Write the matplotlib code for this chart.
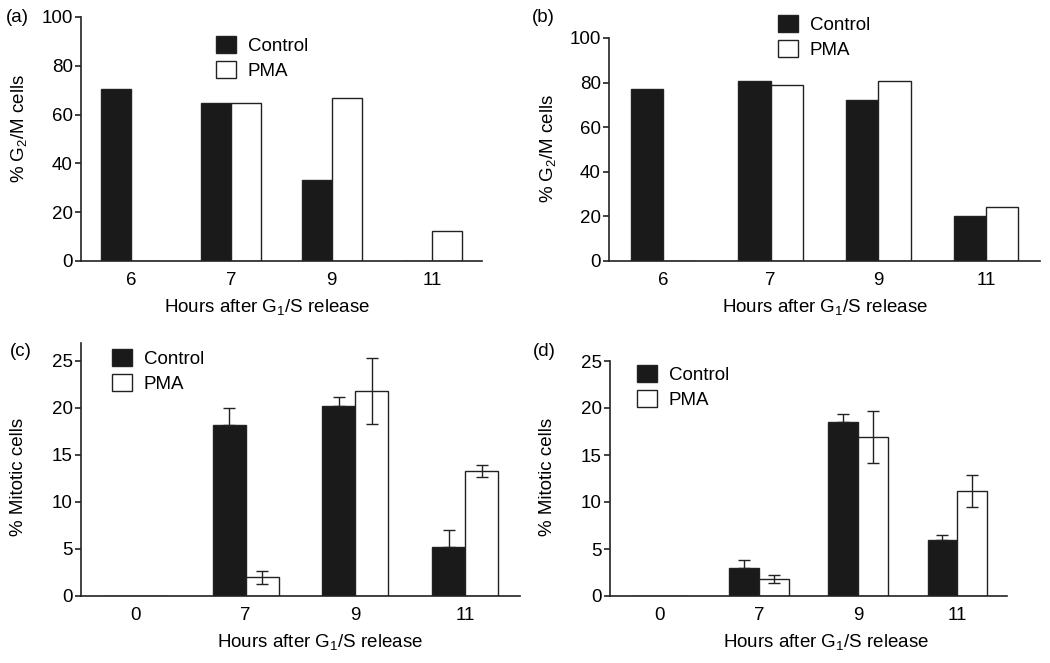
import numpy as np
import matplotlib
matplotlib.use('Agg')
import matplotlib.pyplot as plt
from matplotlib.patches import Patch

plt.rcParams['font.family'] = ['Liberation Sans', 'DejaVu Sans']
plt.rcParams['mathtext.fontset'] = 'custom'
plt.rcParams['mathtext.rm'] = 'Liberation Sans'
plt.rcParams['mathtext.default'] = 'regular'

# data
hours_ab = ['6', '7', '9', '11']
hours_cd = ['0', '7', '9', '11']
g2m_ctrl_a = [70.5, 64.7, 33.0, 0.0]
g2m_pma_a = [0.0, 64.7, 66.6, 12.4]
g2m_ctrl_b = [77.2, 80.5, 72.2, 20.2]
g2m_pma_b = [0.0, 79.0, 80.5, 24.1]
mit_ctrl_c = [0.0, 18.2, 20.2, 5.2]
mit_ctrl_c_err = [0.0, 1.8, 1.0, 1.8]
mit_pma_c = [0.0, 2.0, 21.8, 13.3]
mit_pma_c_err = [0.0, 0.7, 3.5, 0.65]
mit_ctrl_d = [0.0, 3.0, 18.5, 6.0]
mit_ctrl_d_err = [0.0, 0.8, 0.9, 0.5]
mit_pma_d = [0.0, 1.8, 16.9, 11.2]
mit_pma_d_err = [0.0, 0.4, 2.8, 1.7]

W, H = 1050, 663
fig = plt.figure(figsize=(W / 100, H / 100), dpi=100)
DARK = '#1a1a1a'
LINE = '#222222'
BW = 0.3
FS = 13.5


def add_ax(l, r, t, b):
    return fig.add_axes([l / W, 1 - b / H, (r - l) / W, (b - t) / H])


def fig_xy(x, y):
    return x / W, 1 - y / H


def panel(box, cats, ctrl, pma, ylim, yticks, ylabel, letter, leg_xy, ylab_xy, xlab_xy,
          ctrl_err=None, pma_err=None):
    l, r, t, b = box
    ax = add_ax(l, r, t, b)
    x = np.arange(len(cats))
    ax.bar(x - BW / 2, ctrl, BW, color=DARK, edgecolor=LINE, lw=1.0, zorder=2)
    ax.bar(x + BW / 2, pma, BW, color='white', edgecolor=LINE, lw=1.0, zorder=2)
    # control: only the upper half shows above the black bar
    for xs, vals, errs, two_sided in ((x - BW / 2, ctrl, ctrl_err, False),
                                      (x + BW / 2, pma, pma_err, True)):
        if errs is None:
            continue
        m = np.array(errs) > 0
        e = np.array(errs)[m]
        yerr = [e, e] if two_sided else [np.zeros_like(e), e]
        ax.errorbar(xs[m], np.array(vals)[m], yerr=yerr, fmt='none',
                    ecolor=LINE, elinewidth=1.0, capsize=4, capthick=1.0, zorder=3)
    ax.set_xlim(-0.5, 3.5)
    ax.set_ylim(*ylim)
    ax.set_yticks(yticks)
    ax.set_xticks(x)
    ax.set_xticklabels(cats)
    for s in ('top', 'right'):
        ax.spines[s].set_visible(False)
    for s in ('left', 'bottom'):
        ax.spines[s].set_color(LINE)
        ax.spines[s].set_linewidth(1.2)
    ax.tick_params(axis='y', length=4, width=1.2, color=LINE, pad=2, labelsize=FS)
    ax.tick_params(axis='x', length=0, pad=8, labelsize=FS)
    ax.set_ylabel(ylabel, fontsize=FS)
    ax.set_xlabel('Hours after G$_1$/S release', fontsize=FS)
    ax.yaxis.set_label_coords((ylab_xy[0] - l) / (r - l), (b - ylab_xy[1]) / (b - t))
    ax.xaxis.set_label_coords((xlab_xy[0] - l) / (r - l), (b - xlab_xy[1]) / (b - t))
    ax.xaxis.label.set_va('center')
    ax.yaxis.label.set_va('center')
    fig.text(*fig_xy(*letter[1:]), letter[0], fontsize=FS, ha='center', va='center')
    handles = [Patch(facecolor=DARK, edgecolor=LINE, lw=1.0, label='Control'),
               Patch(facecolor='white', edgecolor=LINE, lw=1.0, label='PMA')]
    ax.legend(handles=handles, loc='upper left', bbox_to_anchor=fig_xy(*leg_xy),
              bbox_transform=fig.transFigure, frameon=False, borderpad=0, borderaxespad=0,
              fontsize=FS, handlelength=1.05, handleheight=1.05, labelspacing=0.3,
              handletextpad=0.65)
    return ax


panel((81, 482, 17, 261), hours_ab, g2m_ctrl_a, g2m_pma_a, (0, 100), range(0, 101, 20),
      '% G$_2$/M cells', ('(a)', 17, 17), (216, 36), (19, 128), (267, 307))
panel((609, 1040, 38, 261), hours_ab, g2m_ctrl_b, g2m_pma_b, (0, 100), range(0, 101, 20),
      '% G$_2$/M cells', ('(b)', 543, 17), (778, 15), (548, 148), (825, 307))
panel((81, 520, 343, 596), hours_cd, mit_ctrl_c, mit_pma_c, (0, 26.9), range(0, 26, 5),
      '% Mitotic cells', ('(c)', 21, 352), (112, 349), (19, 477), (320, 642),
      mit_ctrl_c_err, mit_pma_c_err)
panel((610, 1007, 361, 596), hours_cd, mit_ctrl_d, mit_pma_d, (0, 25), range(0, 26, 5),
      '% Mitotic cells', ('(d)', 544, 352), (637, 365), (548, 477), (826, 642),
      mit_ctrl_d_err, mit_pma_d_err)

fig.savefig('out.png', dpi=100)
